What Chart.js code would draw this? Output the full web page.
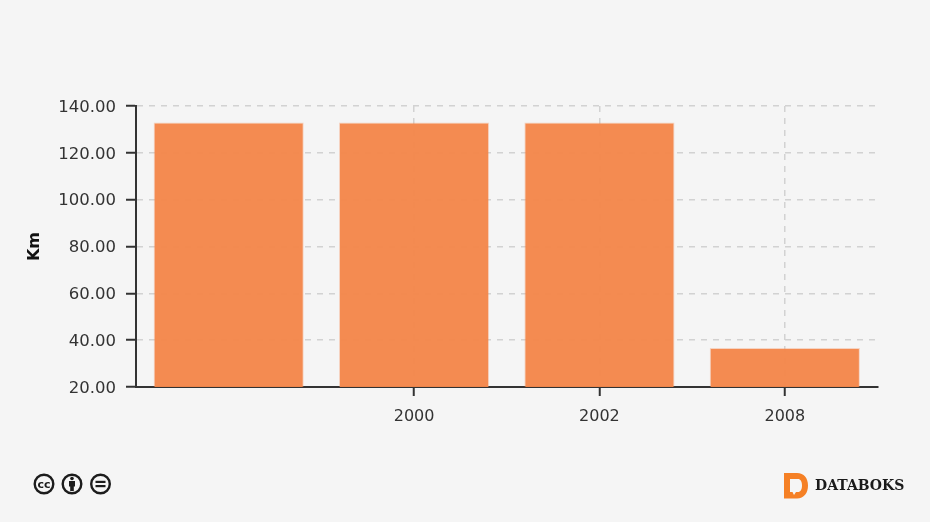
<!DOCTYPE html>
<html>
<head>
<meta charset="utf-8">
<script src="https://cdn.jsdelivr.net/npm/chart.js@4"></script>
<style>
    html, body { margin: 0; padding: 0; background: #f5f5f5; }
    #wrap { position: relative; width: 930px; height: 522px; overflow: hidden; }
    #chart { position: absolute; left: 0; top: 0; }
    .cc { position: absolute; left: 33px; top: 473px; }
    .logo { position: absolute; left: 783px; top: 472px; }
    .brand { position: absolute; left: 815px; top: 477px; font: bold 14px "DejaVu Serif"; color: #1a1a1a; }
</style>
</head>
<body>
<div id="wrap">
    <canvas id="chart" width="930" height="522"></canvas>
    <svg class="cc" width="80" height="22" viewBox="0 0 80 22">
        <g fill="none" stroke="#1c1c1c" stroke-width="2.4">
            <circle cx="11" cy="11" r="9.3"/>
            <circle cx="39" cy="11" r="9.3"/>
            <circle cx="67.5" cy="11" r="9.3"/>
        </g>
        <text x="11" y="15" text-anchor="middle" font-family="DejaVu Sans" font-weight="bold" font-size="11" fill="#1c1c1c">cc</text>
        <g fill="#1c1c1c">
            <circle cx="39" cy="5.5" r="1.8"/>
            <rect x="36" y="8" width="6" height="5.5"/>
            <rect x="37.2" y="13" width="3.6" height="5"/>
            <rect x="62.5" y="7.8" width="10" height="2.2"/>
            <rect x="62.5" y="12" width="10" height="2.2"/>
        </g>
    </svg>
    <svg class="logo" width="26" height="28" viewBox="0 0 26 28">
        <path fill-rule="evenodd" fill="#f58025" d="M1 1H14C21 1 25 6 25 13.5C25 21 21 26.5 14 26.5H1ZM7 7V20H9.5L11 23L13 20H15C17.5 20 19 17.5 19 13.5C19 9.5 17.5 7 15 7Z"/>
    </svg>
    <div class="brand">DATABOKS</div>
</div>
<script>
    const categories = ['', '2000', '2002', '2008'];
    const panjangJalan = [133, 133, 133, 36.7];
    const yMin = 20;
    const yMax = 140;
    const yStep = 20;

    const textColor = '#333333';
    const axisColor = '#333333';
    const gridColor = '#d2d2d2';
    const defaultFont = { family: 'DejaVu Sans', size: 16 };

    new Chart(document.getElementById('chart').getContext('2d'), {
        type: 'bar',
        data: {
            labels: categories,
            datasets: [{
                label: 'Km',
                data: panjangJalan,
                backgroundColor: 'rgba(244,134,74,0.96)',
                borderColor: 'rgba(245,150,100,0.35)',
                borderWidth: 1,
                barPercentage: 0.81,
                categoryPercentage: 1
            }]
        },
        options: {
            responsive: false,
            animation: false,
            layout: { padding: { left: 25, top: 106, right: 52.5, bottom: 0 } },
            plugins: {
                legend: { display: false },
                tooltip: { enabled: false }
            },
            scales: {
                x: {
                    offset: true,
                    afterFit: function (scale) { scale.height = 135; },
                    grid: {
                        offset: false,
                        // la primera categoria no lleva linea ni marca
                        color: (ctx) => ctx.index === 0 ? 'transparent' : gridColor,
                        tickColor: (ctx) => ctx.index === 0 ? 'transparent' : axisColor,
                        lineWidth: 1.5,
                        tickLength: 9,
                        tickWidth: 2
                    },
                    border: { color: axisColor, width: 2, dash: [6, 6] },
                    ticks: { color: textColor, font: defaultFont, padding: 11, maxRotation: 0, autoSkip: false }
                },
                y: {
                    min: yMin,
                    max: yMax,
                    afterFit: function (scale) { scale.width = 111; },
                    grid: {
                        color: gridColor,
                        tickColor: axisColor,
                        lineWidth: 1.5,
                        tickLength: 10,
                        tickWidth: 2
                    },
                    border: { color: axisColor, width: 2, dash: [6, 6] },
                    ticks: {
                        stepSize: yStep,
                        color: textColor,
                        font: { family: 'DejaVu Sans', size: 16.5 },
                        padding: 10,
                        labelOffset: 1.5,
                        callback: (value) => value.toFixed(2)
                    },
                    title: {
                        display: true,
                        text: 'Km',
                        color: '#111111',
                        font: { family: 'DejaVu Sans', size: 16, weight: 'bold' },
                        padding: 0
                    }
                }
            }
        }
    });
</script>
</body>
</html>
